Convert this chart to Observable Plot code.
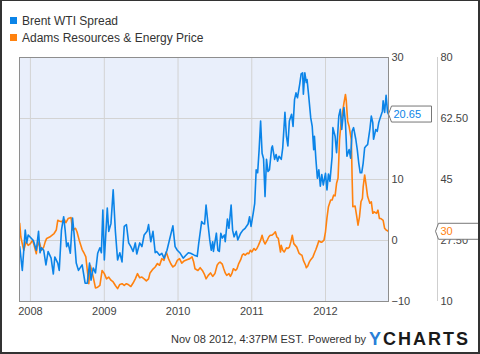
<!DOCTYPE html>
<html>
<head>
<meta charset="utf-8">
<script src="https://cdn.jsdelivr.net/npm/d3@7"></script>
<script src="https://cdn.jsdelivr.net/npm/@observablehq/plot@0.6"></script>
<style>
  body { margin: 0; background: #fff; font-family: "Liberation Sans", Arial, sans-serif; }
  #wrap { position: relative; width: 480px; height: 354px; overflow: hidden; background: #fff; }
  #chart { position: absolute; left: 0; top: 0; }
  #border { position: absolute; left: 0; top: 0; width: 480px; height: 354px; box-sizing: border-box;
            border: 2px solid #333; border-top-width: 1px; pointer-events: none; }
  .leg { position: absolute; left: 10px; font-size: 12px; line-height: 14px; color: #333; white-space: nowrap; }
  .sw { position: absolute; left: 10px; width: 7px; height: 7px; }
  .foot { position: absolute; font-size: 11px; line-height: 13px; color: #333; white-space: nowrap; }
  #logo { position: absolute; left: 369px; top: 329px; font-size: 18px; line-height: 20px; font-weight: bold;
          letter-spacing: 2px; color: #1a1a1a; white-space: nowrap; }
  #logo span { color: #2a7fd8; }
</style>
</head>
<body>
<div id="wrap">
  <div id="chart"></div>
  <div class="sw" style="top:17px;background:#0b84e8"></div>
  <div class="leg" style="left:22px;top:14px">Brent WTI Spread</div>
  <div class="sw" style="top:34px;background:#ff820f"></div>
  <div class="leg" style="left:22px;top:31px">Adams Resources &amp; Energy Price</div>
  <div class="foot" style="left:171px;top:333px">Nov 08 2012, 4:37PM EST.</div>
  <div class="foot" style="left:308px;top:333px">Powered by</div>
  <div id="logo"><span>Y</span>CHARTS</div>
  <div id="border"></div>
</div>
<script>
// ---- data (time as decimal year) ----
const spreadT = [2007.855,2007.89,2007.93,2007.95,2007.97,
  2008.04,2008.08,2008.11,2008.13,2008.15,2008.18,2008.21,2008.24,2008.28,2008.31,2008.33,2008.37,2008.39,2008.42,2008.45,2008.47,2008.49,2008.51,2008.54,2008.57,2008.59,2008.62,2008.65,2008.70,2008.74,2008.77,2008.80,2008.82,2008.85,2008.88,2008.91,2008.94,2008.96,2008.98,
  2009.00,2009.04,2009.06,2009.09,2009.12,2009.15,2009.18,2009.21,2009.24,2009.27,2009.30,2009.33,2009.36,2009.39,2009.42,2009.44,2009.48,2009.51,2009.54,2009.58,2009.60,2009.63,2009.66,2009.69,2009.71,2009.75,2009.78,2009.81,2009.85,2009.89,2009.93,2009.96,2009.99,
  2010.03,2010.07,2010.10,2010.14,2010.17,2010.22,2010.26,2010.28,2010.32,2010.34,2010.36,2010.38,2010.41,2010.43,2010.45,2010.47,2010.48,2010.52,2010.54,2010.56,2010.58,2010.60,2010.63,2010.64,2010.67,2010.69,2010.72,2010.74,2010.76,2010.79,2010.81,2010.85,2010.88,2010.91,2010.95,2010.97,2010.99,
  2011.02,2011.04,2011.06,2011.08,2011.10,2011.12,2011.14,2011.16,2011.18,2011.20,2011.22,2011.24,2011.27,2011.28,2011.31,2011.33,2011.35,2011.37,2011.40,2011.42,2011.45,2011.47,2011.49,2011.51,2011.54,2011.56,2011.58,2011.60,2011.62,2011.65,2011.67,2011.69,2011.70,2011.72,2011.74,2011.75,2011.77,2011.80,2011.82,2011.84,2011.85,2011.87,2011.89,2011.91,2011.93,2011.95,2011.97,
  2012.00,2012.02,2012.04,2012.06,2012.09,2012.10,2012.13,2012.15,2012.18,2012.20,2012.22,2012.25,2012.27,2012.29,2012.32,2012.34,2012.36,2012.38,2012.41,2012.43,2012.45,2012.47,2012.49,2012.51,2012.53,2012.55,2012.57,2012.60,2012.62,2012.64,2012.65,2012.68,2012.70,2012.72,2012.74,2012.77,2012.78,2012.80,2012.82,2012.84,2012.855];
const spreadV = [-1.0,-4.9,1.7,-0.4,0.9,
  0.0,-1.6,1.5,-2.0,-1.2,-1.6,-4.0,-1.8,-2.9,-5.5,-2.7,-3.7,-4.9,1.7,3.9,1.7,-1.0,-0.4,-2.1,3.7,1.2,-3.7,-4.9,-4.0,-7.0,-7.0,-3.7,-6.5,-4.5,-5.3,-2.1,-1.2,-2.0,5.0,
  -3.2,5.3,1.5,2.8,8.3,1.5,-3.2,-2.0,-3.5,2.3,2.6,-0.4,-1.0,-1.8,-0.4,-2.2,-0.4,-1.0,0.9,1.5,2.6,-0.2,1.5,-2.0,-1.8,-2.4,-2.1,-2.9,-1.6,0.4,2.4,-1.0,-1.6,
  -2.1,-2.9,-2.5,-2.0,-2.1,-2.4,-2.6,-0.5,3.1,2.8,2.7,5.8,2.3,0.1,-1.6,-0.2,-1.8,1.2,-1.6,-1.8,1.2,0.4,0.9,-0.2,3.5,2.0,5.8,1.7,0.6,1.5,0.1,1.2,1.7,2.0,2.7,3.9,2.3,
  4.5,6.1,11.6,11.1,14.9,19.6,14.3,13.4,7.2,13.3,11.3,11.6,15.2,15.5,13.3,14.1,13.0,13.8,13.3,15.2,21.0,17.1,15.5,19.6,20.7,18.7,23.1,24.2,23.4,25.6,27.3,27.5,24.0,27.5,25.9,26.4,24.0,20.1,18.7,14.9,17.1,13.3,10.2,11.6,8.9,10.8,9.1,
  11.0,8.3,10.9,9.7,13.8,18.5,17.1,14.4,20.4,21.5,18.2,21.8,19.3,13.8,14.9,13.5,17.9,18.5,16.6,14.9,12.7,11.1,11.1,12.7,15.2,15.5,15.7,18.2,20.4,19.3,16.6,18.2,17.9,19.3,20.1,21.2,22.9,21.0,23.8,21.0,20.65];

const adamsT = [2007.855,2007.87,2007.90,2007.91,2007.94,2007.97,
  2008.00,2008.03,2008.05,2008.08,2008.09,2008.12,2008.15,2008.18,2008.20,2008.22,2008.26,2008.29,2008.32,2008.35,2008.37,2008.39,2008.42,2008.46,2008.48,2008.51,2008.55,2008.57,2008.61,2008.63,2008.66,2008.70,2008.73,2008.75,2008.77,2008.79,2008.81,2008.83,2008.85,2008.88,2008.91,2008.94,2008.97,
  2009.00,2009.03,2009.06,2009.09,2009.12,2009.15,2009.18,2009.21,2009.24,2009.27,2009.30,2009.33,2009.36,2009.39,2009.42,2009.45,2009.48,2009.51,2009.54,2009.57,2009.60,2009.62,2009.66,2009.69,2009.72,2009.75,2009.78,2009.81,2009.84,2009.87,2009.90,2009.93,2009.96,2009.99,
  2010.02,2010.05,2010.08,2010.12,2010.16,2010.19,2010.21,2010.23,2010.27,2010.30,2010.33,2010.36,2010.38,2010.41,2010.44,2010.47,2010.50,2010.53,2010.55,2010.57,2010.60,2010.62,2010.64,2010.66,2010.69,2010.71,2010.73,2010.75,2010.78,2010.80,2010.82,2010.85,2010.87,2010.89,2010.91,2010.94,2010.96,2010.98,
  2011.00,2011.03,2011.05,2011.07,2011.09,2011.12,2011.14,2011.16,2011.18,2011.21,2011.23,2011.25,2011.27,2011.30,2011.32,2011.34,2011.36,2011.39,2011.40,2011.42,2011.44,2011.47,2011.49,2011.51,2011.53,2011.55,2011.57,2011.59,2011.61,2011.64,2011.66,2011.68,2011.70,2011.73,2011.74,2011.76,2011.78,2011.80,2011.83,2011.85,2011.87,2011.89,2011.91,2011.93,2011.95,2011.98,
  2012.00,2012.02,2012.04,2012.07,2012.09,2012.11,2012.13,2012.15,2012.17,2012.18,2012.19,2012.21,2012.23,2012.25,2012.27,2012.28,2012.30,2012.32,2012.35,2012.36,2012.37,2012.40,2012.42,2012.44,2012.46,2012.48,2012.50,2012.51,2012.53,2012.55,2012.57,2012.60,2012.62,2012.64,2012.66,2012.69,2012.71,2012.73,2012.75,2012.78,2012.80,2012.82,2012.84,2012.855];
const adamsV = [32.4,28.5,25.6,24.7,27.1,26.1,
  26.6,27.6,26.1,23.7,25.6,27.1,24.7,25.6,27.1,28.1,28.5,29.0,29.5,30.5,33.3,33.1,32.9,33.5,32.6,33.8,34.1,30.5,31.0,30.0,27.6,24.9,23.7,22.8,18.9,15.1,20.4,18.9,17.0,13.9,14.1,14.6,18.9,
  18.0,16.5,17.0,16.1,15.6,14.6,13.7,14.9,15.1,14.6,15.1,14.8,14.3,15.3,16.5,18.0,16.8,17.0,16.5,15.9,16.5,18.2,19.3,19.9,20.9,20.4,22.3,21.8,24.2,22.3,20.9,19.9,20.4,21.8,
  22.3,21.0,21.6,22.0,22.3,22.8,21.5,19.4,18.9,19.7,18.9,17.7,16.5,17.5,18.2,17.2,18.0,20.4,21.0,21.3,20.7,19.4,18.2,17.5,18.0,17.2,18.0,19.4,18.9,19.4,20.7,22.0,23.3,23.7,23.3,23.9,23.7,24.7,
  24.2,25.2,24.7,25.2,26.1,27.6,29.0,27.4,26.5,27.6,28.5,29.0,29.0,29.5,30.0,28.5,28.1,24.2,26.1,24.7,24.2,25.4,25.2,25.6,27.1,29.0,26.6,26.1,25.6,23.9,23.5,23.3,21.8,20.4,19.7,20.2,21.3,22.0,22.8,23.9,24.9,26.1,27.4,27.1,27.0,27.6,
  30.0,34.0,37.2,39.1,39.1,40.5,40.3,43.9,45.4,50.6,56.4,61.2,64.1,67.0,69.4,67.9,61.7,60.2,56.4,45.8,37.2,37.4,34.8,31.9,34.3,38.6,39.6,42.9,46.3,43.4,40.1,38.2,38.6,35.3,35.7,35.3,36.2,33.8,33.8,33.3,31.0,30.5,30.3,30.0];

const yearTicks = [2008, 2009, 2010, 2011, 2012];
const spreadTicks = [-10, 0, 10, 20, 30];
const adamsTicks = [10, 27.5, 45, 62.5, 80];
const domainStart = "2007-11-08", domainEnd = "2012-11-08";
const lastSpread = 20.65, lastAdams = 30;

// ---- helpers ----
function toDate(t) {
  const y = Math.floor(t);
  const a = Date.UTC(y, 0, 1), b = Date.UTC(y + 1, 0, 1);
  return new Date(a + (t - y) * (b - a));
}
// map Adams price (10..80) onto the spread axis (-10..30)
const A_MIN = 10, A_MAX = 80, S_MIN = -10, S_MAX = 30;
const a2s = a => S_MIN + (a - A_MIN) * (S_MAX - S_MIN) / (A_MAX - A_MIN);
const s2a = s => A_MIN + (s - S_MIN) * (A_MAX - A_MIN) / (S_MAX - S_MIN);
const fmtA = v => Number.isInteger(v) ? String(v) : v.toFixed(2);

const spread = spreadT.map((t, i) => ({date: toDate(t), value: spreadV[i]}));
const adams = adamsT.map((t, i) => ({date: toDate(t), value: adamsV[i]}));
const years = yearTicks.map(y => new Date(Date.UTC(y, 0, 1)));
const x0 = new Date(domainStart + "T00:00Z"), x1 = new Date(domainEnd + "T00:00Z");

const BLUE = "#0b84e8", ORANGE = "#ff820f";

const chart = Plot.plot({
  width: 480, height: 354,
  marginTop: 57, marginBottom: 53, marginLeft: 19, marginRight: 92,
  style: {fontFamily: "'Liberation Sans', Arial, sans-serif", fontSize: "11px", color: "#444", background: "transparent", overflow: "visible"},
  x: {type: "utc", domain: [x0, x1], label: null},
  y: {domain: [S_MIN, S_MAX], label: null},
  marks: [
    Plot.frame({fill: "#e9effb", stroke: null}),
    Plot.gridY(spreadTicks, {stroke: "#d3d3d3", strokeOpacity: 1}),
    Plot.gridX(years, {stroke: "#d3d3d3", strokeOpacity: 1}),
    Plot.line(adams, {x: "date", y: d => a2s(d.value), stroke: ORANGE, strokeWidth: 1.6, clip: true}),
    Plot.line(spread, {x: "date", y: "value", stroke: BLUE, strokeWidth: 1.6, clip: true}),
    Plot.frame({stroke: "#8e8e8e"}),
    Plot.axisX(years, {tickSize: 0, tickPadding: 6, tickFormat: d3.utcFormat("%Y"), fill: "#444", label: null}),
    Plot.axisY(spreadTicks, {anchor: "right", tickSize: 0, tickPadding: 3, fill: "#444", label: null}),
    Plot.ruleX([x1], {dx: 49, y1: S_MIN, y2: S_MAX, stroke: "#cfcfcf"}),
    Plot.axisY(adamsTicks.map(a2s), {anchor: "right", tickSize: 0, tickPadding: 52, label: null,
      tickFormat: d => fmtA(Math.round(s2a(d) * 100) / 100), fill: "#444"})
  ]
});
document.getElementById("chart").appendChild(chart);

// ---- last-value tags, positioned through the plot's scales ----
const sx = chart.scale("x"), sy = chart.scale("y");
function tag(px, val, label, color, width) {
  const py = sy.apply(val);
  const g = d3.select(chart).append("g");
  const h = 8;
  g.append("path")
    .attr("d", `M${px},${py}L${px + 3},${py - h}H${px + width}V${py + h}H${px + 3}Z`)
    .attr("fill", "#fff").attr("stroke", "#777").attr("stroke-width", 1);
  g.append("text").attr("x", px + 5).attr("y", py).attr("dy", "0.35em")
    .attr("text-anchor", "start")
    .attr("fill", color).attr("font-size", 11).text(label);
}
const xEnd = sx.apply(x1);
tag(xEnd + 0.5, lastSpread, String(lastSpread), BLUE, 43);
tag(xEnd + 47.5, a2s(lastAdams), String(lastAdams), ORANGE, 60);
</script>
</body>
</html>
